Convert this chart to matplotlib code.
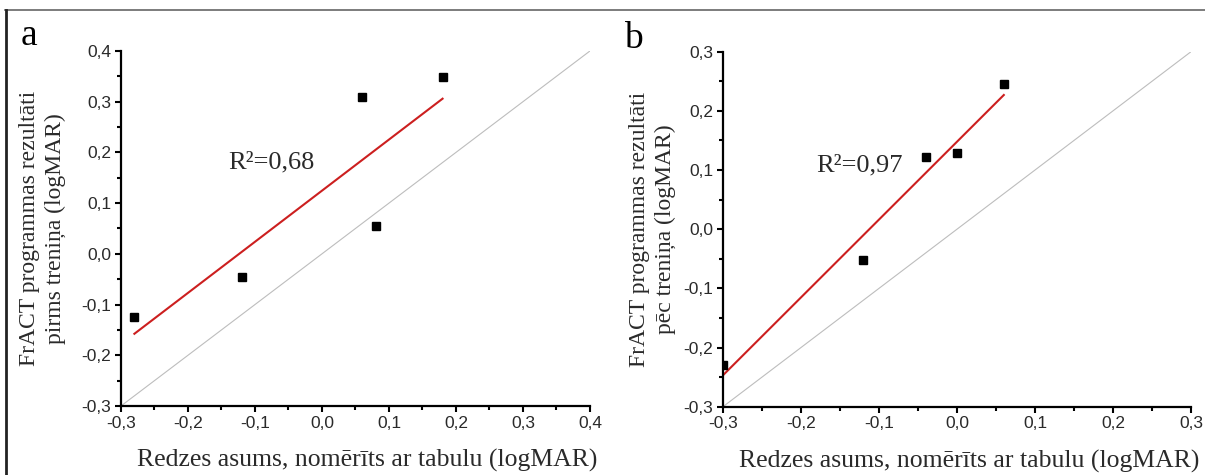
import numpy as np
from matplotlib import pyplot as plt
from matplotlib.lines import Line2D
from matplotlib.ticker import FuncFormatter, MultipleLocator

# a: pirms treniņa
A_X = [-0.28, -0.12, 0.06, 0.08, 0.18]
A_Y = [-0.125, -0.046, 0.309, 0.055, 0.349]
A_R2 = 'R²=0,68'
A_LIM = (-0.3, 0.4)

# b: pēc treniņa
B_X = [-0.30, -0.12, -0.04, 0.00, 0.06]
B_Y = [-0.23, -0.052, 0.122, 0.128, 0.245]
B_R2 = 'R²=0,97'
B_LIM = (-0.3, 0.3)

XLABEL = 'Redzes asums, nomērīts ar tabulu (logMAR)'
A_YLABEL = 'FrACT programmas rezultāti\npirms treniņa (logMAR)'
B_YLABEL = 'FrACT programmas rezultāti\npēc treniņa (logMAR)'

SERIF = 'Liberation Serif'
SANS = 'Liberation Sans'
TEXT_COLOR = '#2a2a2a'


def comma_fmt(v, pos):
    s = '{:.1f}'.format(v).replace('.', ',')
    return '0,0' if s == '-0,0' else s


def draw_panel(ax, xs, ys, lim, r2, r2_pos, ylabel, ypad):
    lo, hi = lim
    ax.plot([lo, hi], [lo, hi], color='#bdbdbd', lw=0.8, zorder=1)
    k, b = np.polyfit(xs, ys, 1)
    fx = np.array([min(xs), max(xs)])
    ax.plot(fx, k * fx + b, color='#cc1f1f', lw=1.5, zorder=2)
    ax.plot(xs, ys, 's', color='black', markersize=6, zorder=3)
    ax.text(r2_pos[0], r2_pos[1], r2, family=SERIF, fontsize=19,
            color=TEXT_COLOR, va='center', ha='left')

    ax.set_xlim(lo, hi)
    ax.set_ylim(lo, hi)
    for side in ['top', 'right']:
        ax.spines[side].set_visible(False)
    for side in ['left', 'bottom']:
        ax.spines[side].set_linewidth(1.6)
    ax.xaxis.set_major_locator(MultipleLocator(0.1))
    ax.xaxis.set_minor_locator(MultipleLocator(0.05))
    ax.yaxis.set_major_locator(MultipleLocator(0.1))
    ax.yaxis.set_minor_locator(MultipleLocator(0.05))
    ax.xaxis.set_major_formatter(FuncFormatter(comma_fmt))
    ax.yaxis.set_major_formatter(FuncFormatter(comma_fmt))
    ax.tick_params(which='major', length=4.5, width=1.5, labelsize=12.5,
                   labelcolor=TEXT_COLOR, pad=2.5)
    ax.tick_params(which='minor', length=3, width=1.5)
    for lab in ax.get_xticklabels() + ax.get_yticklabels():
        lab.set_family(SANS)

    ax.set_xlabel(XLABEL, family=SERIF, fontsize=18.5, color=TEXT_COLOR, labelpad=13)
    ax.xaxis.label.set_x(0.525)
    ax.set_ylabel(ylabel, family=SERIF, fontsize=17, color=TEXT_COLOR,
                  labelpad=ypad, linespacing=1.3)


def main():
    fig = plt.figure(figsize=(12.05, 4.75), dpi=100)
    ax_a = fig.add_axes([0.1004, 0.1453, 0.3892, 0.7474])
    ax_b = fig.add_axes([0.6000, 0.1438, 0.3884, 0.7474])

    draw_panel(ax_a, A_X, A_Y, A_LIM, A_R2, (-0.14, 0.181), A_YLABEL, 11)
    draw_panel(ax_b, B_X, B_Y, B_LIM, B_R2, (-0.18, 0.108), B_YLABEL, 5)

    fig.text(0.017, 0.905, 'a', family=SERIF, fontsize=27, va='baseline')
    fig.text(0.518, 0.899, 'b', family=SERIF, fontsize=27, va='baseline')

    # thin frame round the figure
    fig.add_artist(Line2D([0.004, 1], [0.979, 0.979], color='#666666', lw=1.2))
    fig.add_artist(Line2D([0.005, 0.005], [0, 0.979], color='#222222', lw=2))

    fig.savefig('out.png', dpi=100)


if __name__ == '__main__':
    main()
